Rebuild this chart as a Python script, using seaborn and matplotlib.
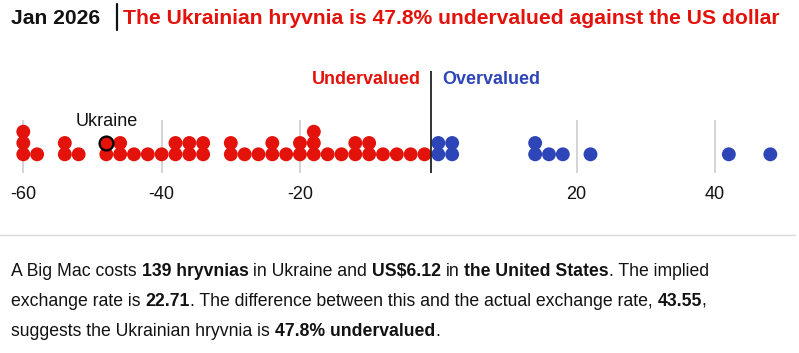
import numpy as np
import pandas as pd
import matplotlib
matplotlib.use("Agg")
import matplotlib.pyplot as plt
from matplotlib.lines import Line2D
import seaborn as sns

# ---------------- data ----------------
# Big Mac index valuation vs US dollar (%), one value per country
valuations = [
    -60.4, -59.9, -59.5,
    -57.8,
    -54.2, -53.6,
    -51.9,
    -48.3,
    -46.4, -45.7,
    -43.9,
    -42.2,
    -40.1,
    -38.3, -37.6,
    -36.2, -35.8,
    -34.4, -33.7,
    -30.3, -29.6,
    -28.1,
    -25.8,
    -24.3, -23.7,
    -22.1,
    -20.4, -19.8,
    -18.5, -18.0, -17.6,
    -16.2,
    -13.9,
    -12.3, -11.8,
    -10.4, -9.7,
    -8.1,
    -5.9,
    -4.2,
    -2.3,
    0.4, 0.8,
    1.7, 2.3,
    13.6, 14.3,
    15.9,
    18.2,
    21.8,
    41.7,
    47.8,
]
ukraine_value = -47.8
highlight_name = "Ukraine"
tick_values = [-60, -40, -20, 20, 40]
tick_labels = ["-60", "-40", "-20", "20", "40"]
bin_width = 2
divider_value = -1  # boundary between the under/over-valued bins

title_date = "Jan 2026"
title_text = "The Ukrainian hryvnia is 47.8% undervalued against the US dollar"
body_lines = [
    [("A Big Mac costs ", False), ("139 hryvnias", True), (" in Ukraine and ", False),
     ("US$6.12", True), (" in ", False), ("the United States", True), (". The implied", False)],
    [("exchange rate is ", False), ("22.71", True),
     (". The difference between this and the actual exchange rate, ", False), ("43.55", True), (",", False)],
    [("suggests the Ukrainian hryvnia is ", False), ("47.8% undervalued", True), (".", False)],
]

RED = "#E3120B"
BLUE = "#2E45B8"
INK = "#121212"

# ---------------- table ----------------
df = pd.DataFrame({"value": valuations + [ukraine_value],
                   "is_highlight": [False] * len(valuations) + [True]})
df["bin"] = np.round(df["value"] / bin_width) * bin_width
df["side"] = np.where(df["value"] < 0, "Undervalued", "Overvalued")
df = df.sort_values(["bin", "is_highlight", "value"]).reset_index(drop=True)
df["row"] = df.groupby("bin").cumcount()

# ---------------- figure ----------------
W, H = 799, 353
sns.set_theme(style="white")
plt.rcParams["font.family"] = ["Liberation Sans", "DejaVu Sans"]
fig = plt.figure(figsize=(W / 100, H / 100), dpi=100)

ax_top_px, ax_bot_px = 60, 180
ax = fig.add_axes([0, (H - ax_bot_px) / H, 1, (ax_bot_px - ax_top_px) / H])
px_per_unit = (715.0 - 23.3) / 100.0
ax.set_xlim(-60 - 23.3 / px_per_unit, -60 + (W - 23.3) / px_per_unit)
row0_px, row_step = 154.3, 11.3
ax.set_ylim((row0_px - ax_bot_px) / row_step, (row0_px - ax_top_px) / row_step)

# grid lines
ax.vlines(tick_values, -1.65, 3.05, color="#d4d4d4", lw=1.4, zorder=0)

sns.scatterplot(data=df, x="bin", y="row", hue="side",
                palette={"Undervalued": RED, "Overvalued": BLUE},
                s=100, linewidth=0, legend=False, ax=ax, zorder=2)
hl = df[df["is_highlight"]]
sns.scatterplot(data=hl, x="bin", y="row", color=RED, s=100,
                edgecolor="black", linewidth=1.6, legend=False, ax=ax, zorder=4)

ax.vlines(divider_value, -1.65, 7.37, color="#222222", lw=1.3, zorder=3)

for _, r in hl.iterrows():
    ax.annotate(highlight_name, (r["bin"], r["row"]), xytext=(0, 15.5),
                textcoords="offset points", ha="center", va="center",
                fontsize=13, color=INK)

label_y = (row0_px - 80) / row_step
ax.annotate("Undervalued", (divider_value, label_y), xytext=(-7.5, 0),
            textcoords="offset points", ha="right", va="center",
            fontsize=13, fontweight="bold", color=RED)
ax.annotate("Overvalued", (divider_value, label_y), xytext=(7.5, 0),
            textcoords="offset points", ha="left", va="center",
            fontsize=13, fontweight="bold", color=BLUE)

ax.set_xticks(tick_values)
ax.set_xticklabels(tick_labels, fontsize=13, color=INK)
ax.set_yticks([])
ax.tick_params(axis="x", length=0, pad=4.5)
ax.set_xlabel("")
ax.set_ylabel("")
for s in ax.spines.values():
    s.set_visible(False)
ax.patch.set_alpha(0)

# separator
fig.add_artist(Line2D([0, 795 / W], [1 - 234.5 / H] * 2, color="#d9d9d9", lw=1,
                      transform=fig.transFigure))

# ---------------- text runs ----------------
renderer = fig.canvas.get_renderer()


def width_of(s, **kw):
    t = fig.text(0, 0, s, parse_math=False, **kw)
    w = t.get_window_extent(renderer).width
    t.remove()
    return w


def draw_run(x_px, base_px, s, **kw):
    """Draw string at x, return new x (handles leading/trailing spaces)."""
    sp = width_of("a a", **kw) - width_of("aa", **kw)
    lead = len(s) - len(s.lstrip(" "))
    trail = len(s) - len(s.rstrip(" "))
    core = s.strip(" ")
    x_px += lead * sp
    if core:
        t = fig.text(x_px / W, 1 - base_px / H, core, ha="left", va="baseline",
                     parse_math=False, **kw)
        x_px += t.get_window_extent(renderer).width
    x_px += trail * sp
    return x_px


# title
tsize = 15.2
x = draw_run(11, 24, title_date, fontsize=tsize, fontweight="bold", color=INK)
fig.add_artist(Line2D([116.5 / W] * 2, [1 - 4 / H, 1 - 30 / H], color=INK, lw=1.6,
                      transform=fig.transFigure))
draw_run(123, 24, title_text, fontsize=tsize, fontweight="bold", color=RED)

# body
bsize = 12.7
for line, base in zip(body_lines, [276, 306, 335.5]):
    x = 11
    for s, bold in line:
        x = draw_run(x, base, s, fontsize=bsize, fontweight="bold" if bold else "normal", color=INK)

fig.savefig("out.png", dpi=100)
